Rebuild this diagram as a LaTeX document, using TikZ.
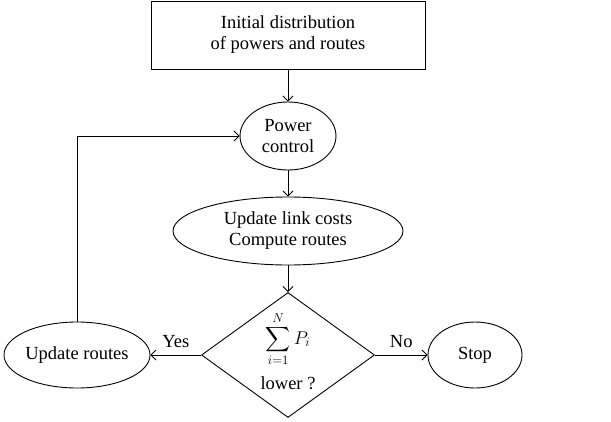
\RequirePackage{fix-cm}
\documentclass[tikz,border=0pt]{standalone}
\usepackage{exscale}
\usepackage{fontspec}
\setmainfont{Liberation Serif}
\usetikzlibrary{shapes.geometric,arrows.meta}
\begin{document}
\begin{tikzpicture}[x=1pt,y=-1pt,
  every node/.style={font=\fontsize{18.5}{21}\selectfont, align=center},
  stepbox/.style={draw, line width=0.9pt, rectangle, minimum width=274pt, minimum height=68pt, inner sep=0pt},
  oval/.style={draw, line width=0.9pt, ellipse, inner sep=0pt},
  decision/.style={draw, line width=0.9pt, diamond, inner sep=0pt, minimum width=173pt, minimum height=125pt},
  arr/.style={line width=0.9pt, -{Straight Barb[length=5pt,width=10pt]}},
  lbl/.style={font=\fontsize{18.5}{21}\selectfont}]
\useasboundingbox (0,0) rectangle (611,421);
\node[stepbox] (init) at (288,35) {Initial distribution\\of powers and routes};
\node[oval, minimum width=96pt, minimum height=68pt] (pc) at (288,136) {Power\\control};
\node[oval, minimum width=230pt, minimum height=68pt] (uc) at (288,231) {Update link costs\\Compute routes};
\node[decision] (dec) at (288,355) {};
\node (sum) at (288,339) {$\displaystyle\sum_{i=1}^{N} P_i$};
\node (low) at (288,383) {lower ?};
\node[oval, minimum width=144pt, minimum height=66pt] (ur) at (77,355) {Update routes};
\node[oval, minimum width=94pt, minimum height=66pt] (stop) at (475,355) {Stop};
\draw[arr] (init) -- (pc);
\draw[arr] (pc) -- (uc);
\draw[arr] (uc) -- (dec);
\draw[arr] (dec.west) -- node[lbl, above, yshift=4pt] {Yes} (ur.east);
\draw[arr] (dec.east) -- node[lbl, above, yshift=4pt] {No} (stop.west);
\draw[arr] (ur.north) |- (pc.west);
\end{tikzpicture}
\end{document}
